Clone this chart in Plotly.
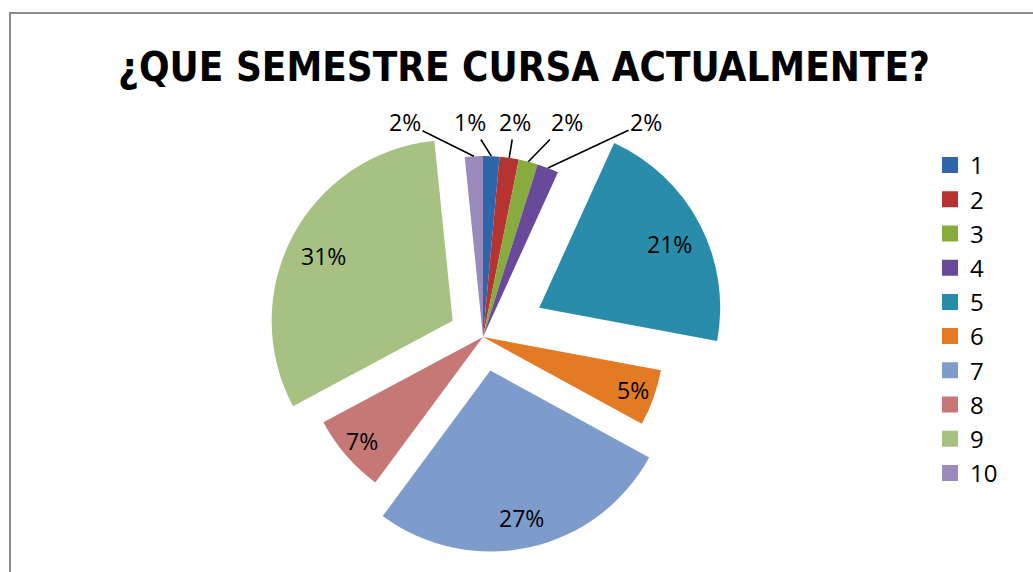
import math
import plotly.graph_objects as go

# ---- data ----
labels = ["1", "2", "3", "4", "5", "6", "7", "8", "9", "10"]
values = [1.45, 1.7, 1.7, 1.9, 21.0, 5.0, 27.0, 7.0, 31.0, 1.6]
pulls = [0, 0, 0, 0, 0.35, 0, 0.19, 0, 0.19, 0]
colors = ["#2F66AB", "#B53331", "#87AB3C", "#68499A", "#2A8CAB",
          "#E37B24", "#7E9CCB", "#C67876", "#A7C182", "#9B8BBC"]
title_text = "¿QUE SEMESTRE CURSA ACTUALMENTE?"

# ---- layout geometry (pixels) ----
W, H = 1033, 572
CX, CY, R = 483, 337, 181
FONT = "Open Sans"
CLEAR = "rgba(0,0,0,0)"

total = sum(values)
starts, mids, ends = [], [], []
cum = 0
for v in values:
    s = cum / total * 360
    cum += v
    e = cum / total * 360
    starts.append(s); ends.append(e); mids.append((s + e) / 2)

# The largest pull would not fit plotly's pie box, so the most pulled slice is
# drawn by its own (unpulled) pie trace whose centre is shifted by the pull.
big = max(range(len(values)), key=lambda i: pulls[i])
main_pulls = [0 if i == big else p for i, p in enumerate(pulls)]
main_colors = [CLEAR if i == big else c for i, c in enumerate(colors)]
big_colors = [colors[i] if i == big else CLEAR for i in range(len(colors))]


def domain(cx, cy, half):
    return dict(x=[(cx - half) / W, (cx + half) / W],
                y=[1 - (cy + half) / H, 1 - (cy - half) / H])


def apex(i):
    a = math.radians(mids[i])
    return CX + pulls[i] * R * math.sin(a), CY - pulls[i] * R * math.cos(a)


common = dict(labels=labels, values=values, sort=False, direction="clockwise",
              rotation=0, textinfo="none")

fig = go.Figure()
# legend-only trace (near-zero-size pie hidden under the main pie)
hx, hy = apex(6)
fig.add_trace(go.Pie(**common,
                     marker=dict(colors=colors, line=dict(width=4, color=colors)),
                     domain=domain(hx, hy + R * 0.6, 0.01),
                     showlegend=True, hoverinfo="skip"))
fig.add_trace(go.Pie(**common, pull=main_pulls,
                     marker=dict(colors=main_colors, line=dict(width=0)),
                     domain=domain(CX, CY, R * (1 + max(main_pulls))),
                     showlegend=False, hoverinfo="label+percent"))
bx, by = apex(big)
fig.add_trace(go.Pie(**common,
                     marker=dict(colors=big_colors, line=dict(width=0)),
                     domain=domain(bx, by, R),
                     showlegend=False, hoverinfo="skip"))

# labels
label_pos = {9: (405, 122), 0: (470, 122), 1: (515, 122), 2: (567, 122), 3: (646, 122)}
annotations = []
for i, v in enumerate(values):
    frac = v / total
    pct = f"{round(frac * 100)}%"
    a = math.radians(mids[i])
    ax0, ay0 = apex(i)
    if frac < 0.03:
        px = ax0 + R * math.sin(a)
        py = ay0 - R * math.cos(a)
        lx, ly = label_pos[i]
        annotations.append(dict(
            x=px / W, y=1 - py / H, xref="paper", yref="paper",
            ax=lx - px, ay=ly - py, axref="pixel", ayref="pixel",
            text=pct, showarrow=True, arrowhead=0, arrowwidth=1.6,
            arrowcolor="black", standoff=0, startstandoff=0,
            font=dict(family=FONT, size=23, color="black")))
    else:
        rf = 0.81 if frac > 0.15 else 0.88
        tx = ax0 + rf * R * math.sin(a)
        ty = ay0 - rf * R * math.cos(a)
        annotations.append(dict(
            x=tx / W, y=1 - ty / H, xref="paper", yref="paper",
            text=pct, showarrow=False, xanchor="center", yanchor="middle",
            yshift=-4 if frac > 0.15 else 0,
            font=dict(family=FONT, size=23, color="black")))

fig.update_layout(
    width=W, height=H,
    margin=dict(l=0, r=0, t=0, b=0),
    paper_bgcolor="white", plot_bgcolor="white",
    title=dict(text=title_text, x=524 / W, xanchor="center",
               y=1 - 67 / H, yanchor="middle", yref="container",
               font=dict(family="DejaVu Sans Condensed, DejaVu Sans", size=40,
                         color="black", weight="bold")),
    legend=dict(x=930 / W, xanchor="left", y=1 - 143 / H, yanchor="top",
                font=dict(family=FONT, size=24, color="black"),
                bgcolor=CLEAR, traceorder="normal"),
    annotations=annotations,
    shapes=[dict(type="rect", xref="paper", yref="paper",
                 x0=10 / W, x1=1.2, y0=-0.2, y1=1 - 13 / H,
                 line=dict(color="#8C8C8C", width=2), fillcolor=CLEAR,
                 layer="below")],
)

fig.write_html("out.html")
